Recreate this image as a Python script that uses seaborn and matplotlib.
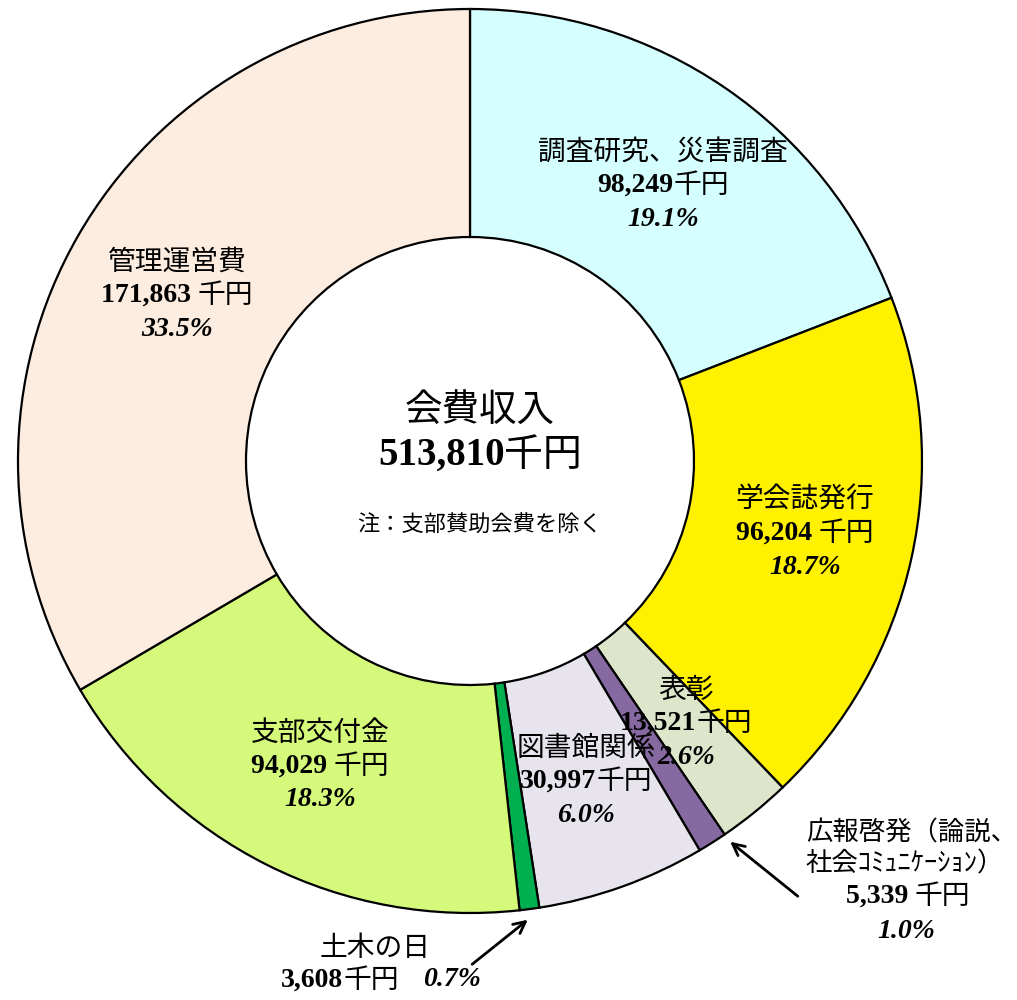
import matplotlib
matplotlib.use("Agg")
import matplotlib.pyplot as plt
import seaborn as sns

# ---- data ----
categories = ["調査研究、災害調査", "学会誌発行", "表彰", "広報啓発（論説、社会ｺﾐｭﾆｹｰｼｮﾝ）",
              "図書館関係", "土木の日", "支部交付金", "管理運営費"]
values = [98249, 96204, 13521, 5339, 30997, 3608, 94029, 171863]
value_labels = ["98,249", "96,204 ", "13,521", "5,339 ",
                "30,997", "3,608", "94,029 ", "171,863 "]
unit = "千円"
pct_labels = ["19.1%", "18.7%", "2.6%", "1.0%", "6.0%", "0.7%", "18.3%", "33.5%"]
colors = ["#D5FFFF", "#FFF100", "#DDE5CB", "#8669A0", "#E8E4EE", "#00B050", "#D5F97A", "#FDEDE1"]
center_title = "会費収入"
center_total = "513,810"
center_note = "注：支部賛助会費を除く"

sns.set_theme(style="white")
plt.rcParams["font.family"] = ["Noto Sans CJK JP", "DejaVu Sans"]
plt.rcParams["text.color"] = "black"

W, H = 1017, 1000
fig = plt.figure(figsize=(W / 100, H / 100), dpi=100)
ax = fig.add_axes([0, 0, 1, 1])

cx, cy, R = 470, H - 461, 452
ax.pie(values, colors=colors, startangle=90, counterclock=False,
       center=(cx, cy), radius=R,
       wedgeprops=dict(width=228, edgecolor="black", linewidth=1.6))
ax.set_xlim(0, W)
ax.set_ylim(0, H)
ax.set_aspect("equal", adjustable="box")
ax.axis("off")

JP = ["Noto Sans CJK JP", "DejaVu Sans"]
FS = 20
renderer = fig.canvas.get_renderer()

def jp(x, y, s, fs=FS, **kw):
    ax.text(x, H - y, s, fontsize=fs, family=JP, fontweight="normal",
            color="black", ha="center", va="center", **kw)

def num(x, y, s, fs=FS, **kw):
    # bold serif number followed by regular gothic unit, centred together
    t1 = ax.text(0, H - y, s.replace(" ", "\u00a0"), fontsize=fs,
                 family=["Liberation Serif"], fontweight="bold",
                 color="black", ha="left", va="center")
    t2 = ax.text(0, H - y, unit, fontsize=fs, family=JP, fontweight="normal",
                 color="black", ha="left", va="center")
    w1 = t1.get_window_extent(renderer).width
    w2 = t2.get_window_extent(renderer).width
    x0 = x - (w1 + w2) / 2
    t1.set_x(x0)
    t2.set_x(x0 + w1)

def pct(x, y, s, fs=FS, **kw):
    ax.text(x, H - y, s, fontsize=fs, family=["Liberation Serif"], fontweight="bold",
            fontstyle="italic", color="black", ha="center", va="center", **kw)

# label positions (pixel coordinates)
pos = {
    0: (663, 152),
    1: (805, 500),
    2: (686, 690),
    4: (586, 748),
    6: (320, 733),
    7: (177, 262),
}
for i, (x, y) in pos.items():
    jp(x, y, categories[i])
    num(x, y + 33, value_labels[i])
    pct(x, y + 67, pct_labels[i])

# 広報啓発
jp(912, 833, "広報啓発（論説、", fs=19)
jp(905, 864, "社会ｺﾐｭﾆｹｰｼｮﾝ）", fs=19)
num(908, 896, value_labels[3])
pct(906, 931, pct_labels[3])
ax.annotate("", xy=(728, H - 840), xytext=(800, H - 898),
            arrowprops=dict(arrowstyle="->,head_length=0.7,head_width=0.35",
                            lw=2, color="black"))

# 土木の日
jp(375, 948, categories[5])
num(340, 980, value_labels[5])
pct(452, 980, pct_labels[5])
ax.annotate("", xy=(530, H - 918), xytext=(470, H - 966),
            arrowprops=dict(arrowstyle="->,head_length=0.7,head_width=0.35",
                            lw=2, color="black"))

# center
jp(480, 410, center_title, fs=27)
num(480, 455, center_total, fs=28)
jp(480, 525, center_note, fs=16)

fig.savefig("out.png", dpi=100, facecolor="white")
